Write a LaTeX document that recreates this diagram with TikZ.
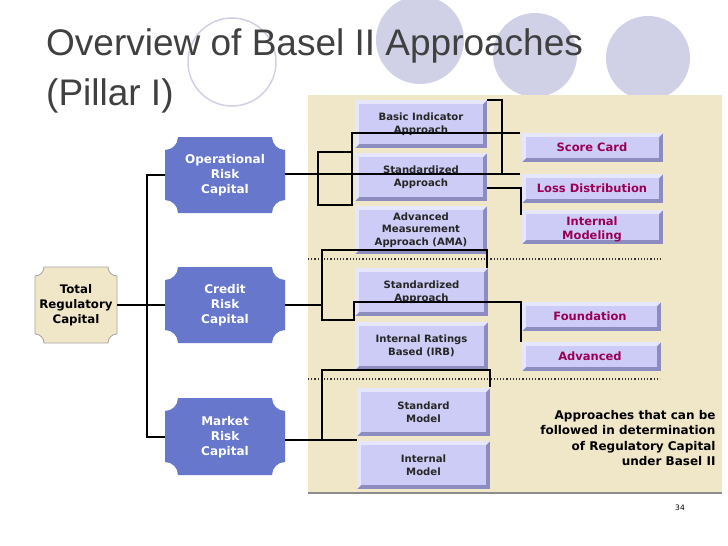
\documentclass[tikz,border=0pt]{standalone}
\usepackage{fontspec}
\setmainfont{DejaVu Sans}
\newfontfamily\titlefont{Liberation Sans}
\definecolor{lav}{HTML}{CCCCF6}
\definecolor{lavdk}{HTML}{8C8CBE}
\definecolor{lavlt}{HTML}{E6E6FF}
\definecolor{beige}{HTML}{F0E6C8}
\definecolor{blueb}{HTML}{6677CC}
\definecolor{mag}{HTML}{990055}
\definecolor{circ}{HTML}{D0D0E6}
\newcommand{\bevbox}[6]{% x1 y1 x2 y2 name text
  \fill[lavdk] (#1,#2) rectangle (#3,#4);
  \fill[lavlt] (#1,#2) -- (#3,#2) -- (#3-4,#2+4) -- (#1+4,#4-4) -- (#1,#4) -- cycle;
  \fill[lav] (#1+4,#2+4) rectangle (#3-4,#4-4);
  \node[boxtxt] (#5) at ({(#1+#3)/2},{(#2+#4)/2}) {#6};}
\newcommand{\notch}[6]{% x1 y1 x2 y2 r style
  \path[#6] (#1+#5,#2) -- (#3-#5,#2) arc[start angle=180,end angle=90,radius=#5]
   -- (#3,#4-#5) arc[start angle=270,end angle=180,radius=#5]
   -- (#1+#5,#4) arc[start angle=0,end angle=-90,radius=#5]
   -- (#1,#2+#5) arc[start angle=90,end angle=0,radius=#5] -- cycle;}
\begin{document}
\begin{tikzpicture}[x=1pt,y=-1pt,
  boxtxt/.style={font=\fontsize{10.1}{12.5}\selectfont\bfseries,align=center,text=black!85},
  magtxt/.style={font=\fontsize{11.5}{14}\selectfont\bfseries,align=center,text=mag},
  bluetxt/.style={font=\fontsize{12}{15}\selectfont\bfseries,align=center,text=white},
  conn/.style={line width=2.2pt,black},
  dots/.style={line width=1.2pt,dotted,black!80}]
\useasboundingbox (0,0) rectangle (728,546);
\fill[white] (0,0) rectangle (728,546);
% decorative circles
\draw[circ,line width=1.5pt] (232,62) circle[radius=44];
\fill[circ] (420,40) circle[radius=44];
\fill[circ] (535,55) circle[radius=42];
\fill[circ] (648,58) circle[radius=42];
\node[anchor=north west,font=\titlefont\fontsize{37}{50}\selectfont,text=black!75,align=left,inner sep=0pt] (title) at (46,28) {Overview of Basel II Approaches\\(Pillar I)};
% panel
\fill[beige] (308,95) rectangle (722,492);
\draw[black!45,line width=1.2pt] (308,493) -- (722,493);
\draw[dots] (308,259) -- (663,259);
\draw[dots] (308,379) -- (660,379);
% boxes
\bevbox{355}{100}{487}{148}{bia}{Basic Indicator\\Approach}
\bevbox{355}{153}{487}{201}{sao}{Standardized\\Approach}
\bevbox{355}{206}{487}{254}{ama}{Advanced\\Measurement\\Approach (AMA)}
\bevbox{355}{268}{488}{316}{sac}{Standardized\\Approach}
\bevbox{355}{322}{488}{370}{irb}{Internal Ratings\\Based (IRB)}
\bevbox{357}{388}{490}{436}{stm}{Standard\\Model}
\bevbox{357}{441}{490}{489}{inm}{Internal\\Model}
\bevbox{522}{133}{663}{162}{sc}{}
\node[magtxt] (sct) at (592,147) {Score Card};
\bevbox{522}{174}{663}{203}{ld}{}
\node[magtxt] (ldt) at (592,188) {Loss Distribution};
\bevbox{522}{210}{663}{244}{im}{}
\node[magtxt] (imt) at (592,229) {Internal\\Modeling};
\bevbox{522}{302}{661}{331}{fd}{}
\node[magtxt] (fdt) at (590,316) {Foundation};
\bevbox{522}{342}{661}{371}{adv}{}
\node[magtxt] (advt) at (590,356) {Advanced};
\node[font=\fontsize{12}{15.5}\selectfont\bfseries,align=right,anchor=east] (note) at (719,438) {Approaches that can be\\followed in determination\\of Regulatory Capital\\under Basel II};
\node[font=\fontsize{7.5}{9}\selectfont] (pg) at (680,508) {34};
% left shapes
\notch{35}{267}{117}{343}{9}{fill=beige,draw=black!35,line width=0.8pt}
\node[font=\fontsize{11.8}{15}\selectfont\bfseries,align=center] (tot) at (76,305) {Total\\Regulatory\\Capital};
\notch{165}{137}{285}{213}{13}{fill=blueb}
\node[bluetxt] (op) at (225,175) {Operational\\Risk\\Capital};
\notch{165}{267}{285}{343}{13}{fill=blueb}
\node[bluetxt] (cr) at (225,305) {Credit\\Risk\\Capital};
\notch{165}{398}{285}{475}{13}{fill=blueb}
\node[bluetxt] (mk) at (225,437) {Market\\Risk\\Capital};
% connectors
\draw[conn] (117,305) -- (147,305);
\draw[conn] (165,175) -| (147,437) -- (165,437);
\draw[conn] (147,305) -- (165,305);
\draw[conn] (285,174) -- (520,174);
\draw[conn] (318,174) |- (352,152) |- (520,133);
\draw[conn] (318,174) |- (352,205) -- (352,152);
\draw[conn] (487,100) -| (502,174);
\draw[conn] (487,188) -| (521,215);
\draw[conn] (285,305) -- (322,305);
\draw[conn] (322,305) |- (487,250) -- (487,268);
\draw[conn] (322,305) |- (354,320) |- (521,302) -- (521,342);
\draw[conn] (285,440) -- (322,440);
\draw[conn] (322,440) |- (490,370) -- (490,387);
\draw[conn] (322,440) -- (357,440);
\end{tikzpicture}
\end{document}
